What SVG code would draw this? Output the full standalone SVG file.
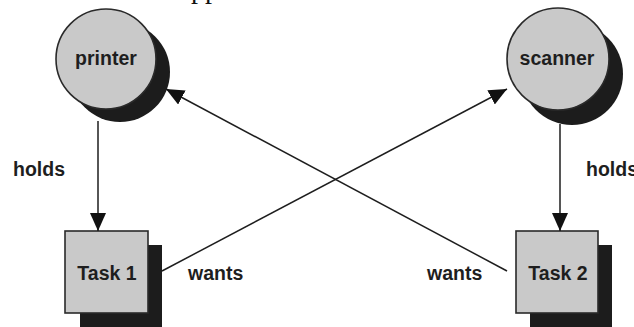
<svg xmlns="http://www.w3.org/2000/svg" width="634" height="327" viewBox="0 0 634 327">
  <style>
    .shadow { fill: #1c1c1c; }
    .node { fill: #c9c9c9; stroke: #2a2a2a; stroke-width: 1.6; }
    .lbl { font-family: "Liberation Sans", Arial, sans-serif; font-weight: bold; font-size: 19.5px; fill: #1e1e1e; }
    .edge { stroke: #1e1e1e; stroke-width: 1.5; fill: none; marker-end: url(#arrow); }
  </style>
  <defs>
    <marker id="arrow" markerWidth="18" markerHeight="16" refX="18" refY="8" orient="auto" markerUnits="userSpaceOnUse">
      <path d="M0,0 L18,8 L0,16 Z" fill="#111"/>
    </marker>
  </defs>
  <rect width="634" height="327" fill="#ffffff"/>
  <text x="191" y="-2" font-family="Liberation Serif, serif" font-size="28" fill="#111">pp</text>

  <g id="printer">
    <circle class="shadow" cx="120" cy="72" r="50"/>
    <circle class="node" cx="106" cy="59" r="50"/>
    <text class="lbl" x="106" y="65" text-anchor="middle">printer</text>
  </g>
  <g id="scanner">
    <circle class="shadow" cx="572" cy="74" r="51"/>
    <circle class="node" cx="558" cy="59" r="51"/>
    <text class="lbl" x="557" y="65" text-anchor="middle">scanner</text>
  </g>
  <g id="task1">
    <rect class="shadow" x="80" y="245" width="82" height="85"/>
    <rect class="node" x="65" y="231" width="83" height="82"/>
    <text class="lbl" x="107" y="280" text-anchor="middle">Task 1</text>
  </g>
  <g id="task2">
    <rect class="shadow" x="530" y="245" width="82" height="85"/>
    <rect class="node" x="516" y="231" width="82" height="82"/>
    <text class="lbl" x="558" y="280" text-anchor="middle">Task 2</text>
  </g>

  <g id="connectors">
    <line class="edge" x1="98" y1="121" x2="98" y2="231"/>
    <line class="edge" x1="560" y1="124" x2="560" y2="231"/>
    <line class="edge" x1="162" y1="271" x2="507" y2="89"/>
    <line class="edge" x1="507" y1="271" x2="166" y2="89"/>
    <text class="lbl" x="13" y="176">holds</text>
    <text class="lbl" x="586" y="176">holds</text>
    <text class="lbl" x="188" y="280">wants</text>
    <text class="lbl" x="427" y="280">wants</text>
  </g>
</svg>
